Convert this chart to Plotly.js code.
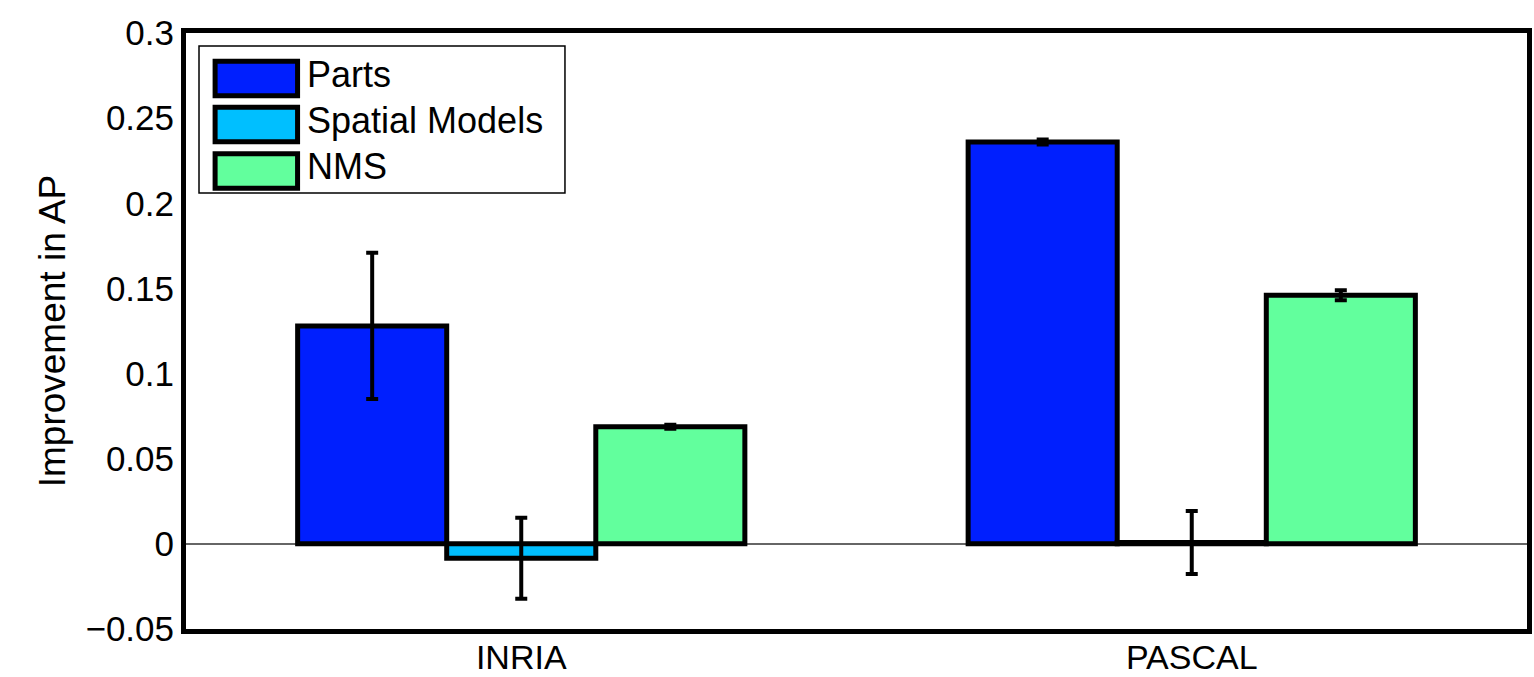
<!DOCTYPE html>
<html>
<head>
<meta charset="utf-8">
<script src="https://cdn.plot.ly/plotly-3.0.1.min.js"></script>
<style>html,body{margin:0;padding:0;background:#fff;}#chart{width:1534px;height:677px;}</style>
</head>
<body>
<div id="chart"></div>
<script>
// ---- data ----
var categories = ['INRIA', 'PASCAL'];
var seriesNames = ['Parts', 'Spatial Models', 'NMS'];
var partsValues = [0.128, 0.236];
var partsErrors = [0.043, 0.0015];
var spatialValues = [-0.0085, 0.0008];
var spatialErrors = [0.0238, 0.0185];
var nmsValues = [0.0688, 0.146];
var nmsErrors = [0.0012, 0.003];
var yTickVals = [-0.05, 0, 0.05, 0.1, 0.15, 0.2, 0.25, 0.3];
var yTickText = ['\u22120.05', '0', '0.05', '0.1', '0.15', '0.2', '0.25', '0.3'];

// ---- style ----
var colors = ['#001ffe', '#00bfff', '#62ff9d'];
var FONT = 'Liberation Sans, Arial, Helvetica, sans-serif';
var values = [partsValues, spatialValues, nmsValues];
var errors = [partsErrors, spatialErrors, nmsErrors];

var traces = seriesNames.map(function (name, i) {
  return {
    type: 'bar',
    name: name,
    x: categories,
    y: values[i],
    marker: { color: colors[i], line: { color: '#000', width: 5 } },
    error_y: { type: 'data', array: errors[i], visible: true, color: '#000', thickness: 4, width: 6 },
    showlegend: false,
    hoverinfo: 'x+y+name'
  };
});

// custom legend (paper coordinates) built from series names and colours
var shapes = [];
var annotations = [];
var legX0 = 0.0097, legX1 = 0.2826, legY1 = 0.978, legY0 = 0.7315;
shapes.push({ type: 'rect', xref: 'paper', yref: 'paper', x0: legX0, x1: legX1, y0: legY0, y1: legY1,
  line: { color: '#000', width: 1.5 }, fillcolor: 'rgba(255,255,255,1)', layer: 'above' });
var rowCenters = [0.9237, 0.8465, 0.7685];
var swH = 0.058;
seriesNames.forEach(function (name, i) {
  shapes.push({ type: 'rect', xref: 'paper', yref: 'paper',
    x0: 0.0217, x1: 0.0832, y0: rowCenters[i] - swH / 2, y1: rowCenters[i] + swH / 2,
    line: { color: '#000', width: 5 }, fillcolor: colors[i], layer: 'above' });
  annotations.push({ xref: 'paper', yref: 'paper', x: 0.0885, y: rowCenters[i] + 0.007, xanchor: 'left', yanchor: 'middle',
    text: name, showarrow: false, font: { family: FONT, size: 36, color: '#000' } });
});

var layout = {
  width: 1534, height: 677,
  margin: { l: 186, r: 7, t: 33, b: 48 },
  paper_bgcolor: '#fff', plot_bgcolor: '#fff',
  barmode: 'group', bargap: 0.333, bargroupgap: 0,
  showlegend: false,
  font: { family: FONT, color: '#000' },
  xaxis: {
    type: 'category', range: [-0.5, 1.5],
    showline: true, mirror: true, linecolor: '#000', linewidth: 5,
    showgrid: false, zeroline: false, ticks: '',
    ticklabelstandoff: -6,
    tickfont: { family: FONT, size: 34, color: '#000' },
    fixedrange: true
  },
  yaxis: {
    range: [-0.05, 0.3], tickvals: yTickVals, ticktext: yTickText,
    showline: true, mirror: true, linecolor: '#000', linewidth: 5,
    showgrid: false, zeroline: true, zerolinecolor: '#666', zerolinewidth: 1.5,
    ticks: '', ticklen: 0,
    tickfont: { family: FONT, size: 35, color: '#000' },
    title: { text: 'Improvement in AP', font: { family: FONT, size: 37, color: '#000' }, standoff: 10 },
    fixedrange: true
  },
  shapes: shapes,
  annotations: annotations
};

Plotly.newPlot('chart', traces, layout, { displayModeBar: false, staticPlot: true });
</script>
</body>
</html>
